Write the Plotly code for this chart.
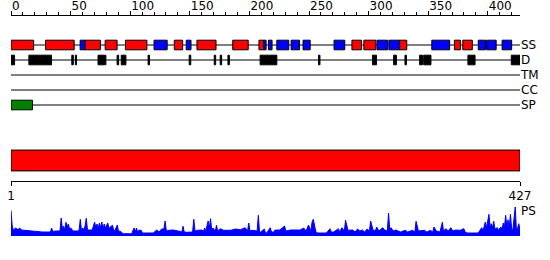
import plotly.graph_objects as go

# ---------------- data ----------------
seq_len = 427
tracks = ["SS", "D", "TM", "CC", "SP"]

helix_start = [0, 29, 62, 79, 96, 137, 156, 186, 208, 286, 296, 326, 372, 379]
helix_end   = [19, 53, 75, 89, 114, 144, 172, 199, 212, 294, 306, 332, 377, 387]

strand_start = [58, 120, 147, 212, 216, 223, 235, 245, 271, 307, 317, 353, 392, 399, 412]
strand_end   = [62, 131, 151, 214, 219, 233, 242, 251, 280, 316, 326, 368, 398, 407, 420]

dis_start = [0, 15, 51, 54, 73, 78.5, 89, 92.5, 115, 149.5, 170.5, 175.5, 182, 209, 258, 303.3, 321, 330.5, 342.8, 346.2, 383.3, 419.7]
dis_end   = [3, 34, 52.3, 55, 78, 79.6, 90.3, 96.4, 116.2, 150.8, 171.7, 176.7, 183.2, 223, 259.2, 306.6, 323.3, 331.7, 345.2, 352.3, 389.3, 427]

sp_start = [0]
sp_end = [18]

region_start = [1]
region_end = [427]

top_ticks = [0, 50, 100, 150, 200, 250, 300, 350, 400]
bottom_ticks = [1, 427]

ps_pos = [1, 2, 3, 5, 7, 8, 10, 14, 20, 27, 34, 35, 36, 38, 42, 43, 44, 45, 46, 47, 48, 49, 50, 51,
          53, 55, 57, 58, 59, 60, 61, 62, 63, 64, 65, 67, 69, 71, 72, 73, 74, 75, 76, 77, 78, 79, 80,
          82, 83, 84, 86, 87, 88, 90, 91, 92, 95, 100, 102, 104, 105, 106, 107, 108, 110, 111, 113,
          120, 123, 125, 127, 129, 130, 131, 133, 137, 141, 144, 145, 146, 148, 152, 153, 154, 155,
          157, 161, 162, 163, 164, 166, 167, 168, 169, 170, 172, 173, 174, 176, 179, 185, 189, 193,
          197, 199, 200, 201, 203, 207, 208, 209, 210, 213, 214, 215, 218, 219, 221, 222, 226, 230,
          231, 235, 243, 246, 248, 250, 252, 253, 254, 256, 257, 265, 268, 269, 271, 275, 276, 278,
          280, 281, 283, 287, 289, 291, 293, 295, 297, 299, 301, 302, 304, 306, 307, 309, 312, 314,
          316, 317, 318, 319, 321, 323, 327, 331, 333, 337, 339, 340, 342, 347, 349, 352, 354, 355,
          357, 360, 362, 363, 365, 367, 369, 371, 373, 377, 380, 381, 383, 392, 395, 396, 398, 399,
          401, 402, 403, 404, 405, 406, 408, 409, 411, 412, 413, 414, 415, 416, 417, 418, 419, 420,
          421, 422, 423, 424, 425, 426, 427]
ps_val = [25.7, 10, 6, 8, 6, 8, 6, 5.5, 5, 4, 4, 8, 4.5, 5, 5, 18, 7, 10, 6, 13.7, 9, 12, 7, 8,
          5, 5, 5, 6, 16.7, 5, 8, 6, 10, 17.7, 6, 6, 6, 14, 8, 12, 7, 13, 8, 14, 7, 12, 8,
          13, 7, 9, 10.7, 5, 5.7, 11, 4, 5, 2.3, 2.3, 2.3, 8, 4, 8, 4, 5.7, 5.7, 3, 3,
          3, 6, 4, 7, 7, 15, 5, 5.7, 6, 5, 4, 9.7, 4, 3.7, 4, 4, 16.7, 5,
          5.7, 6, 4, 8, 5, 15, 8, 17.3, 6, 8, 5, 10.7, 5, 7.3, 5.7, 5.7, 7, 6.3,
          8.3, 5, 13, 5, 5.7, 5, 20.7, 4, 4, 7, 3, 3, 8.3, 4, 4, 6, 6, 10,
          5, 6, 6, 8, 5, 11, 5, 14, 16.7, 5, 3, 3, 7.3, 4, 4, 7.3, 4, 8.3,
          5, 15.7, 5.7, 6, 4, 7, 5, 6, 4, 7, 5, 15, 6, 5, 9, 5, 8.3, 5.7,
          5, 23, 6, 8.3, 5, 6, 4, 5.7, 4, 5.7, 4, 14.7, 5, 5.7, 4, 5.7, 4, 9,
          5, 4, 13.7, 5, 7.3, 5, 8.3, 5, 6, 5.7, 7.3, 4, 3, 3, 8.3, 5, 14, 8,
          21.7, 9, 12.3, 8, 14.7, 7, 8.3, 6, 9, 7, 13, 9, 20.7, 9, 16.3, 8, 21.7, 7.3,
          6, 18, 29, 6, 8, 12.3, 5.7]

# ---------------- figure ----------------
W, H = 550, 260
FONT = dict(family="DejaVu Sans", size=12, color="black")
x_dom = [11 / W, 520 / W]


def yfrac(px):
    return 1 - px / H


fig = go.Figure()

# track baselines (base subplot, drawn beneath the boxes)
for i, t in enumerate(tracks):
    fig.add_trace(go.Scatter(x=[0, seq_len], y=[i, i], mode="lines",
                             line=dict(color="black", width=1),
                             xaxis="x", yaxis="y", hoverinfo="skip", showlegend=False))


def boxes(starts, ends, track, color, width=0.64):
    idx = tracks.index(track)
    return go.Bar(orientation="h", y=[idx] * len(starts),
                  x=[e - s for s, e in zip(starts, ends)], base=starts,
                  width=width, marker=dict(color=color, line=dict(color="black", width=1)),
                  xaxis="x", yaxis="y4", showlegend=False, cliponaxis=False)


fig.add_trace(boxes(helix_start, helix_end, "SS", "#ff0000"))
fig.add_trace(boxes(strand_start, strand_end, "SS", "#0000ff"))
fig.add_trace(boxes(dis_start, dis_end, "D", "#000000"))
fig.add_trace(boxes(sp_start, sp_end, "SP", "#008000"))

# region bar
fig.add_trace(go.Bar(orientation="h", y=[0], x=[e - s for s, e in zip(region_start, region_end)],
                     base=region_start, width=1,
                     marker=dict(color="#ff0000", line=dict(color="black", width=1)),
                     xaxis="x2", yaxis="y2", showlegend=False, cliponaxis=False))

# PS profile
fig.add_trace(go.Scatter(x=ps_pos, y=ps_val, mode="lines", fill="tozeroy",
                         line=dict(color="#0000ff", width=1), fillcolor="#0000ff",
                         xaxis="x2", yaxis="y3", showlegend=False, cliponaxis=False))

fig.update_layout(
    width=W, height=H, margin=dict(l=0, r=0, t=0, b=0, pad=0, autoexpand=False),
    paper_bgcolor="white", plot_bgcolor="rgba(0,0,0,0)",
    font=FONT, barmode="overlay", showlegend=False,
    xaxis=dict(domain=x_dom, range=[0, seq_len], anchor="free", position=yfrac(15),
               side="top", showline=True, linecolor="black", linewidth=1,
               ticks="outside", tickvals=top_ticks, ticklen=4, tickcolor="black",
               ticklabelposition="outside right", tickfont=FONT, automargin=False,
               minor=dict(dtick=10, tick0=0, ticks="outside", ticklen=3, tickcolor="black"),
               showgrid=False, zeroline=False, fixedrange=True),
    yaxis=dict(domain=[yfrac(112.5), yfrac(37.5)], range=[len(tracks) - 0.5, -0.5],
               anchor="x", side="right", tickvals=list(range(len(tracks))), ticktext=tracks,
               ticks="", tickfont=FONT, automargin=False,
               showline=False, showgrid=False, zeroline=False),
    yaxis4=dict(overlaying="y", range=[len(tracks) - 0.5, -0.5], visible=False,
                anchor="x", showgrid=False, zeroline=False, automargin=False),
    xaxis2=dict(domain=x_dom, range=[1, seq_len], anchor="free", position=yfrac(181),
                side="bottom", showline=True, linecolor="black", linewidth=1,
                ticks="outside", tickvals=bottom_ticks, ticklen=4, tickcolor="black",
                tickfont=FONT, automargin=False, showgrid=False, zeroline=False),
    yaxis2=dict(domain=[yfrac(173), yfrac(148)], range=[-0.6, 0.6], anchor="x2",
                visible=False, showgrid=False, zeroline=False, automargin=False),
    yaxis3=dict(domain=[yfrac(236), yfrac(206)], range=[0, 30], anchor="x2", side="right",
                tickvals=[25], ticktext=["PS"], ticks="", tickfont=FONT, automargin=False,
                showline=False, showgrid=False, zeroline=False),
)

fig.write_html("out.html")
